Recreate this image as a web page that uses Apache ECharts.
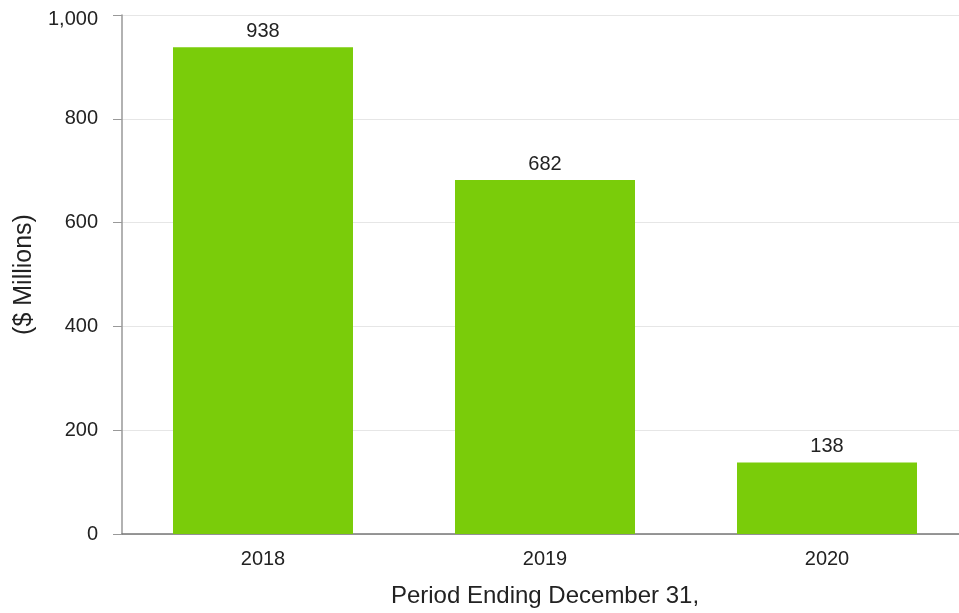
<!DOCTYPE html>
<html>
<head>
<meta charset="utf-8">
<script src="https://cdn.jsdelivr.net/npm/echarts@6/dist/echarts.min.js"></script>
<style>html,body{margin:0;padding:0;background:#fff}#c{width:959px;height:613px}</style>
</head>
<body>
<div id="c"></div>
<script>
const categories = ['2018', '2019', '2020'];
const values = [938, 682, 138];
const yTicks = [0, 200, 400, 600, 800, 1000];

const chart = echarts.init(document.getElementById('c'), null, {renderer: 'canvas'});
const font = 'Liberation Sans, Arial, sans-serif';
chart.setOption({
  animation: false,
  grid: {left: 122, width: 846, top: 15, height: 519, containLabel: false, outerBoundsMode: 'none'},
  xAxis: {
    type: 'category',
    data: categories,
    name: 'Period Ending December 31,',
    nameLocation: 'middle',
    nameGap: 50,
    nameTextStyle: {fontFamily: font, fontSize: 24, color: '#222'},
    axisLine: {lineStyle: {color: '#777', width: 1.5}},
    axisTick: {alignWithLabel: true, length: 8, lineStyle: {color: '#999'}},
    axisLabel: {fontFamily: font, fontSize: 20, color: '#222', margin: 15}
  },
  yAxis: {
    type: 'value',
    min: yTicks[0],
    max: yTicks[yTicks.length - 1],
    interval: 200,
    name: '($ Millions)',
    nameLocation: 'middle',
    nameGap: 84,
    nameTextStyle: {fontFamily: font, fontSize: 25, color: '#222'},
    axisLine: {show: true, lineStyle: {color: '#999', width: 1.5}},
    axisTick: {show: true, length: 9, lineStyle: {color: '#999'}},
    axisLabel: {fontFamily: font, fontSize: 20, color: '#222', margin: 24,
      formatter: v => v === yTicks[yTicks.length - 1] ? '{top|' + v.toLocaleString('en-US') + '}' : v.toLocaleString('en-US'),
      rich: {top: {fontFamily: font, fontSize: 20, color: '#222', padding: [9, 0, 0, 0]}}},
    splitLine: {lineStyle: {color: '#e6e6e6'}}
  },
  series: [{
    type: 'bar',
    data: values,
    barWidth: 180,
    itemStyle: {color: '#7acc0a'},
    label: {show: true, position: 'top', distance: 6, fontFamily: font, fontSize: 20, color: '#222'}
  }]
});
</script>
</body>
</html>
